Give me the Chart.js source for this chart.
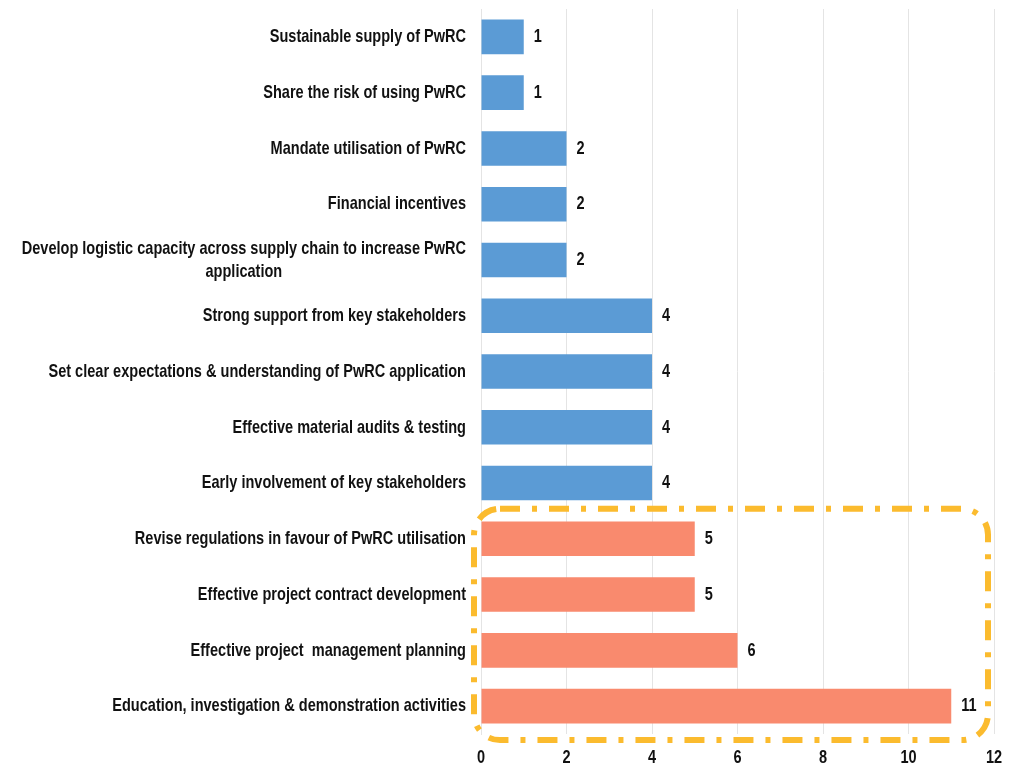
<!DOCTYPE html>
<html>
<head>
<meta charset="utf-8">
<script src="https://cdn.jsdelivr.net/npm/chart.js@4/dist/chart.umd.min.js"></script>
<style>
  html, body { margin: 0; padding: 0; background: #fff; }
  #wrap { width: 1023px; height: 773px; }
</style>
</head>
<body>
<div id="wrap"><canvas id="chart" width="1023" height="773"></canvas></div>
<script>
const categories = [
  "Sustainable supply of PwRC",
  "Share the risk of using PwRC",
  "Mandate utilisation of PwRC",
  "Financial incentives",
  ["Develop logistic capacity across supply chain to increase PwRC", "application"],
  "Strong support from key stakeholders",
  "Set clear expectations & understanding of PwRC application",
  "Effective material audits & testing",
  "Early involvement of key stakeholders",
  "Revise regulations in favour of PwRC utilisation",
  "Effective project contract development",
  "Effective project  management planning",
  "Education, investigation & demonstration activities"
];
const counts = [1, 1, 2, 2, 2, 4, 4, 4, 4, 5, 5, 6, 11];
const highlighted = [false, false, false, false, false, false, false, false, false, true, true, true, true];
const xTicks = [0, 2, 4, 6, 8, 10, 12];

const BLUE = "#5b9bd5";
const SALMON = "#f98a6e";
const FRAME = "#fbbb2e";
const FONT = "bold 19px 'Liberation Sans', Arial, sans-serif";
const SQUEEZE = 0.765; // narrow-font look

function narrowText(ctx, text, x, y, align) {
  // draws text squeezed horizontally; x is the anchor per align
  ctx.save();
  ctx.translate(x, y);
  ctx.scale(SQUEEZE, 1);
  ctx.textAlign = align;
  ctx.fillText(text, 0, 0);
  ctx.restore();
}

// category labels on the left, drawn narrow
const categoryLabels = {
  id: "categoryLabels",
  afterDraw(chart) {
    const ctx = chart.ctx;
    const y = chart.scales.y;
    const right = chart.chartArea.left - 15;
    ctx.save();
    ctx.font = FONT;
    ctx.fillStyle = "#111";
    ctx.textBaseline = "middle";
    categories.forEach((label, i) => {
      const cy = y.getPixelForValue(i);
      if (Array.isArray(label)) {
        const widest = Math.max(...label.map((l) => ctx.measureText(l).width)) * SQUEEZE;
        const mid = right - widest / 2;
        const lineH = 23;
        label.forEach((line, k) => {
          narrowText(ctx, line, mid, cy + (k - (label.length - 1) / 2) * lineH, "center");
        });
      } else {
        narrowText(ctx, label, right, cy, "right");
      }
    });
    ctx.restore();
  }
};

// value labels at the end of each bar
const valueLabels = {
  id: "valueLabels",
  afterDatasetsDraw(chart) {
    const ctx = chart.ctx;
    const meta = chart.getDatasetMeta(0);
    ctx.save();
    ctx.font = FONT;
    ctx.fillStyle = "#111";
    ctx.textBaseline = "middle";
    meta.data.forEach((bar, i) => {
      narrowText(ctx, String(counts[i]), bar.x + 10, bar.y, "left");
    });
    ctx.restore();
  }
};

// x tick labels, drawn narrow
const xLabels = {
  id: "xLabels",
  afterDraw(chart) {
    const ctx = chart.ctx;
    const x = chart.scales.x;
    ctx.save();
    ctx.font = FONT;
    ctx.fillStyle = "#111";
    ctx.textBaseline = "middle";
    xTicks.forEach((v) => {
      narrowText(ctx, String(v), x.getPixelForValue(v), chart.chartArea.bottom + 24, "center");
    });
    ctx.restore();
  }
};

// dash-dot rounded frame around the highlighted group
const groupFrame = {
  id: "groupFrame",
  afterDraw(chart) {
    const x = chart.scales.x;
    const y = chart.scales.y;
    const first = highlighted.indexOf(true);
    const last = highlighted.lastIndexOf(true);
    const left = x.getPixelForValue(0) - 7;
    const right = x.getPixelForValue(12) - 6;
    const top = y.getPixelForValue(first) - 30;
    const bottom = y.getPixelForValue(last) + 34;
    const ctx = chart.ctx;
    ctx.save();
    ctx.strokeStyle = FRAME;
    ctx.lineWidth = 6;
    ctx.setLineDash([20, 12, 5, 12]);
    ctx.beginPath();
    ctx.roundRect(left, top, right - left, bottom - top, 26);
    ctx.stroke();
    ctx.restore();
  }
};

new Chart(document.getElementById("chart"), {
  type: "bar",
  data: {
    labels: categories,
    datasets: [
      {
        data: counts,
        backgroundColor: highlighted.map((h) => (h ? SALMON : BLUE)),
        borderWidth: 0,
        categoryPercentage: 0.62,
        barPercentage: 1.0,
      },
    ],
  },
  options: {
    indexAxis: "y",
    responsive: false,
    animation: false,
    layout: { padding: { left: 0, right: 29, top: 9, bottom: 0 } },
    plugins: {
      legend: { display: false },
      tooltip: { enabled: false },
    },
    scales: {
      x: {
        min: 0,
        max: 12,
        afterBuildTicks: (scale) => {
          scale.ticks = xTicks.map((v) => ({ value: v }));
        },
        afterFit: (scale) => {
          scale.height = 39;
        },
        grid: { color: "#e4e4e4", drawTicks: false },
        border: { display: false },
        ticks: { display: false },
      },
      y: {
        afterFit: (scale) => {
          scale.width = 481;
        },
        grid: { display: false, drawTicks: false },
        border: { display: true, color: "#e4e4e4", width: 1 },
        ticks: { display: false },
      },
    },
  },
  plugins: [valueLabels, categoryLabels, xLabels, groupFrame],
});
</script>
</body>
</html>
